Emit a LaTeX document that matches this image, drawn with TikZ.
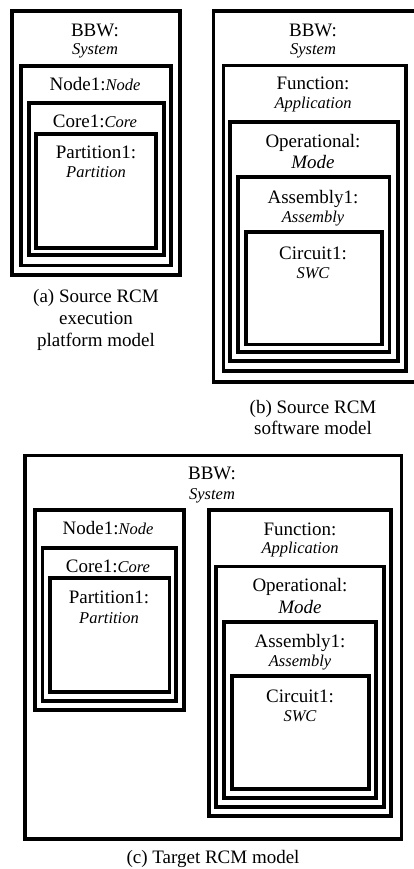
\documentclass[tikz,border=0pt]{standalone}
\usepackage{fontspec}
\setmainfont{Liberation Serif}
\newcommand{\typ}[1]{{\fontsize{16.5}{18}\selectfont\itshape #1}}

\begin{document}
\begin{tikzpicture}[x=1pt,y=-1pt,
  box/.style={line width=3.8pt},
  txt/.style={anchor=base,inner sep=0pt,font=\fontsize{19}{22}\selectfont}]

	\useasboundingbox (0,0) rectangle (414,869);
	\clip (0,0) rectangle (414,869);

	% (a) source execution platform model
	\draw[box] (12,11) rectangle (180,275);
	\draw[box] (21,66) rectangle (171,265.5);
	\draw[box] (29,103) rectangle (164,255);
	\draw[box] (36,134) rectangle (156,248);
	\node[txt] (bbwA) at (95,37) {BBW:};
	\node[txt] (sysA) at (95,55) {\typ{System}};
	\node[txt] (nodeA) at (95,90.5) {Node1:\typ{Node}};
	\node[txt] (coreA) at (95,128) {Core1:\typ{Core}};
	\node[txt] (partA) at (96,159) {Partition1:};
	\node[txt] (ptypA) at (96,178) {\typ{Partition}};
	\node[txt] (capA1) at (96,302) {(a) Source RCM};
	\node[txt] (capA2) at (96,324) {execution};
	\node[txt] (capA3) at (96,346) {platform model};

	% (b) source software model
	\draw[box] (213.5,11) rectangle (416,382);
	\draw[box] (223.5,65.5) rectangle (406,371);
	\draw[box] (230,122) rectangle (398,361);
	\draw[box] (238,177) rectangle (389.5,352);
	\draw[box] (246,232) rectangle (382,344.5);
	\node[txt] (bbwB) at (313,37) {BBW:};
	\node[txt] (sysB) at (313,55) {\typ{System}};
	\node[txt] (funB) at (313,90) {Function:};
	\node[txt] (appB) at (313,109) {\typ{Application}};
	\node[txt] (opB) at (313,148) {Operational:};
	\node[txt] (modeB) at (313,168) {\textit{Mode}};
	\node[txt] (asmB) at (313,204) {Assembly1:};
	\node[txt] (atypB) at (313,222) {\typ{Assembly}};
	\node[txt] (cirB) at (313,259) {Circuit1:};
	\node[txt] (swcB) at (313,278) {\typ{SWC}};
	\node[txt] (capB1) at (313,413) {(b) Source RCM};
	\node[txt] (capB2) at (313,434) {software model};

	% (c) target model
	\draw[box] (25,455.5) rectangle (401.5,839);
	\draw[box] (35,510) rectangle (184,710);
	\draw[box] (42.5,548) rectangle (176,701);
	\draw[box] (50,578) rectangle (169.5,692);
	\draw[box] (209,510) rectangle (391,816);
	\draw[box] (216,566.5) rectangle (384,807);
	\draw[box] (224,622) rectangle (376,798);
	\draw[box] (232,676) rectangle (369,789);
	\node[txt] (bbwC) at (212,479) {BBW:};
	\node[txt] (sysC) at (212,499) {\typ{System}};
	\node[txt] (nodeC) at (108,534) {Node1:\typ{Node}};
	\node[txt] (coreC) at (108,572) {Core1:\typ{Core}};
	\node[txt] (partC) at (109,603) {Partition1:};
	\node[txt] (ptypC) at (109,623) {\typ{Partition}};
	\node[txt] (funC) at (300,535) {Function:};
	\node[txt] (appC) at (300,553) {\typ{Application}};
	\node[txt] (opC) at (300,591) {Operational:};
	\node[txt] (modeC) at (300,613) {\textit{Mode}};
	\node[txt] (asmC) at (300,647) {Assembly1:};
	\node[txt] (atypC) at (300,666) {\typ{Assembly}};
	\node[txt] (cirC) at (300,702) {Circuit1:};
	\node[txt] (swcC) at (300,721) {\typ{SWC}};
	\node[txt] (capC) at (213,863) {(c) Target RCM model};

\end{tikzpicture}
\end{document}
